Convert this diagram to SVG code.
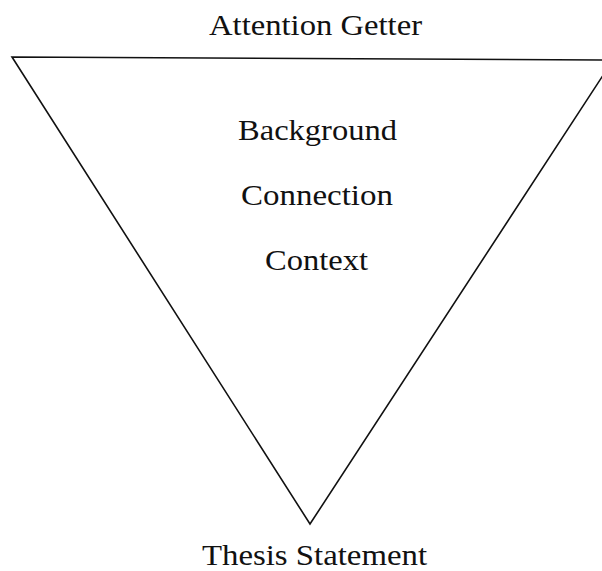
<svg xmlns="http://www.w3.org/2000/svg" width="602" height="571" viewBox="0 0 602 571">
<style>
.t{font-family:"Liberation Serif","DejaVu Serif",serif;font-size:30px;fill:#111;text-anchor:middle}
.edge{fill:none;stroke:#111;stroke-width:1.6;stroke-linejoin:miter}
</style>
<rect width="602" height="571" fill="#fff"/>
<g id="funnel">
<polygon class="edge" points="12,57 613,60 310,524"/>
</g>
<g id="attention-getter"><text class="t" x="315.5" y="35" textLength="213" lengthAdjust="spacingAndGlyphs">Attention Getter</text></g>
<g id="background"><text class="t" x="317.5" y="140" textLength="159" lengthAdjust="spacingAndGlyphs">Background</text></g>
<g id="connection"><text class="t" x="317" y="205" textLength="152" lengthAdjust="spacingAndGlyphs">Connection</text></g>
<g id="context"><text class="t" x="316.5" y="270" textLength="103" lengthAdjust="spacingAndGlyphs">Context</text></g>
<g id="thesis-statement"><text class="t" x="314.5" y="565" textLength="225" lengthAdjust="spacingAndGlyphs">Thesis Statement</text></g>
</svg>
